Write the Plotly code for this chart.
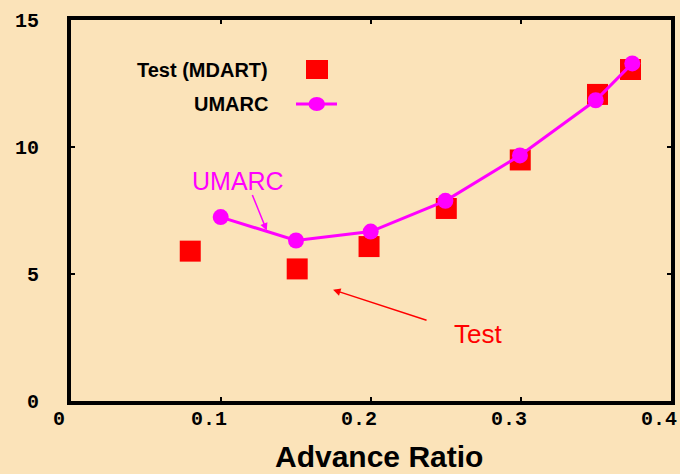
import plotly.graph_objects as go

# Data
test_x = [0.0795, 0.1508, 0.1987, 0.2502, 0.2995, 0.3510, 0.3730]
test_y = [5.90, 5.20, 6.08, 7.58, 9.49, 12.07, 13.05]
umarc_x = [0.0998, 0.1500, 0.1998, 0.2496, 0.2993, 0.3498, 0.3742]
umarc_y = [7.24, 6.32, 6.67, 7.88, 9.67, 11.84, 13.29]
x_ticks = [0, 0.1, 0.2, 0.3, 0.4]
x_tick_labels = ["0", "0.1", "0.2", "0.3", "0.4"]
y_ticks = [0, 5, 10, 15]
y_tick_labels = ["0", "5", "10", "15"]

BG = "#FBE3B9"
MAG = "#FF00FF"
RED = "#FF0000"

fig = go.Figure()
fig.add_trace(go.Scatter(x=test_x, y=test_y, mode="markers", name="Test (MDART)",
                         marker=dict(symbol="square", size=21, color=RED, line=dict(width=0)),
                         hoverinfo="skip", cliponaxis=False))
fig.add_trace(go.Scatter(x=umarc_x, y=umarc_y, mode="lines+markers", name="UMARC",
                         line=dict(color=MAG, width=3),
                         marker=dict(symbol="circle", size=16, color=MAG, line=dict(width=0)),
                         hoverinfo="skip", cliponaxis=False))

axis_common = dict(showline=True, linecolor="black", linewidth=4, mirror="ticks",
                   ticks="inside", ticklen=4, tickwidth=2, tickcolor="black",
                   showgrid=False, zeroline=False, automargin=False,
                   tickfont=dict(family="Liberation Mono", size=20, color="black", weight="bold"))

fig.update_xaxes(range=[0, 0.4], tickvals=x_ticks, ticktext=x_tick_labels,
                 ticklabelshift=-12, ticklabelstandoff=-4, **axis_common)
fig.update_yaxes(range=[0, 15], tickvals=y_ticks, ticktext=y_tick_labels,
                 ticklabelstandoff=24, **axis_common)

def px_x(p):
    return (p - 71) / 600

def px_y(p):
    return (401 - p) / 381

annotations = [
    dict(text="<b>Advance Ratio</b>", xref="paper", yref="paper", x=px_x(379), y=px_y(456),
         showarrow=False, font=dict(family="Arial", size=30, color="black"), xanchor="center", yanchor="middle"),
    # legend text
    dict(text="<b>Test (MDART)</b>", xref="paper", yref="paper", x=px_x(270), y=px_y(70),
         showarrow=False, font=dict(family="Arial", size=20, color="black"), xanchor="right", yanchor="middle"),
    dict(text="<b>UMARC</b>", xref="paper", yref="paper", x=px_x(270), y=px_y(104),
         showarrow=False, font=dict(family="Arial", size=20, color="black"), xanchor="right", yanchor="middle"),
    # callouts
    dict(text="UMARC", xref="paper", yref="paper", x=px_x(238), y=px_y(181),
         showarrow=False, font=dict(family="Arial", size=25, color=MAG), xanchor="center", yanchor="middle"),
    dict(text="", x=0.1305, y=6.71, ax=-15, ay=-37, showarrow=True, arrowhead=2, arrowsize=1,
         arrowwidth=1.5, arrowcolor=MAG, standoff=0, startstandoff=0),
    dict(text="Test", xref="paper", yref="paper", x=px_x(477.5), y=px_y(333.5),
         showarrow=False, font=dict(family="Arial", size=26, color=RED), xanchor="center", yanchor="middle"),
    dict(text="", x=0.1747, y=4.38, ax=95, ay=31, showarrow=True, arrowhead=2, arrowsize=1,
         arrowwidth=1.5, arrowcolor=RED, standoff=0, startstandoff=0),
]

shapes = [
    # legend key: square
    dict(type="rect", xref="paper", yref="paper", x0=px_x(306), x1=px_x(328), y0=px_y(79), y1=px_y(60),
         fillcolor=RED, line=dict(width=0)),
    # legend key: line + circle
    dict(type="line", xref="paper", yref="paper", x0=px_x(296), x1=px_x(337), y0=px_y(104), y1=px_y(104),
         line=dict(color=MAG, width=3)),
    dict(type="circle", xref="paper", yref="paper", x0=px_x(308.5), x1=px_x(325), y0=px_y(111), y1=px_y(97),
         fillcolor=MAG, line=dict(width=0)),
]

fig.update_layout(width=680, height=474, paper_bgcolor=BG, plot_bgcolor=BG,
                  margin=dict(l=71, r=9, t=20, b=73), showlegend=False,
                  annotations=annotations, shapes=shapes)

fig.write_html("out.html")
